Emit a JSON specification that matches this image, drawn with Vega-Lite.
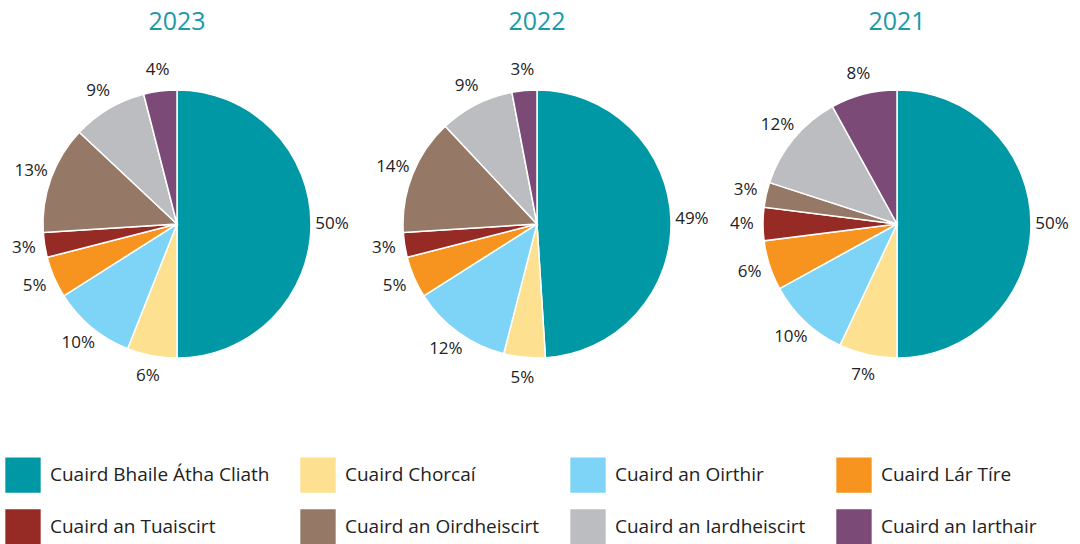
{
  "$schema": "https://vega.github.io/schema/vega-lite/v6.json",
  "background": "white",
  "padding": {"left": 5, "right": 5, "top": 10, "bottom": 0},
  "data": {"values": [
    {"year": "2023", "region": "Cuaird Bhaile Átha Cliath", "order": 1, "value": 50},
    {"year": "2023", "region": "Cuaird Chorcaí", "order": 2, "value": 6},
    {"year": "2023", "region": "Cuaird an Oirthir", "order": 3, "value": 10},
    {"year": "2023", "region": "Cuaird Lár Tíre", "order": 4, "value": 5},
    {"year": "2023", "region": "Cuaird an Tuaiscirt", "order": 5, "value": 3},
    {"year": "2023", "region": "Cuaird an Oirdheiscirt", "order": 6, "value": 13},
    {"year": "2023", "region": "Cuaird an Iardheiscirt", "order": 7, "value": 9},
    {"year": "2023", "region": "Cuaird an Iarthair", "order": 8, "value": 4},
    {"year": "2022", "region": "Cuaird Bhaile Átha Cliath", "order": 1, "value": 49},
    {"year": "2022", "region": "Cuaird Chorcaí", "order": 2, "value": 5},
    {"year": "2022", "region": "Cuaird an Oirthir", "order": 3, "value": 12},
    {"year": "2022", "region": "Cuaird Lár Tíre", "order": 4, "value": 5},
    {"year": "2022", "region": "Cuaird an Tuaiscirt", "order": 5, "value": 3},
    {"year": "2022", "region": "Cuaird an Oirdheiscirt", "order": 6, "value": 14},
    {"year": "2022", "region": "Cuaird an Iardheiscirt", "order": 7, "value": 9},
    {"year": "2022", "region": "Cuaird an Iarthair", "order": 8, "value": 3},
    {"year": "2021", "region": "Cuaird Bhaile Átha Cliath", "order": 1, "value": 50},
    {"year": "2021", "region": "Cuaird Chorcaí", "order": 2, "value": 7},
    {"year": "2021", "region": "Cuaird an Oirthir", "order": 3, "value": 10},
    {"year": "2021", "region": "Cuaird Lár Tíre", "order": 4, "value": 6},
    {"year": "2021", "region": "Cuaird an Tuaiscirt", "order": 5, "value": 4},
    {"year": "2021", "region": "Cuaird an Oirdheiscirt", "order": 6, "value": 3},
    {"year": "2021", "region": "Cuaird an Iardheiscirt", "order": 7, "value": 12},
    {"year": "2021", "region": "Cuaird an Iarthair", "order": 8, "value": 8}
  ]},
  "transform": [{"calculate": "datum.value + '%'", "as": "label"}],
  "facet": {
    "column": {
      "field": "year", "type": "nominal", "sort": "descending",
      "header": {"title": null, "labelFontSize": 25, "labelColor": "#1a9aa8", "labelFont": "Open Sans", "labelPadding": 0}
    }
  },
  "spacing": 16,
  "spec": {
    "width": 344,
    "height": 378,
    "encoding": {
      "theta": {"field": "value", "type": "quantitative", "stack": true},
      "order": {"field": "order", "type": "quantitative"}
    },
    "layer": [
      {
        "mark": {"type": "arc", "outerRadius": 134, "stroke": "white", "strokeWidth": 1.5},
        "encoding": {
          "color": {
            "field": "region", "type": "nominal",
            "sort": ["Cuaird Bhaile Átha Cliath", "Cuaird Chorcaí", "Cuaird an Oirthir", "Cuaird Lár Tíre", "Cuaird an Tuaiscirt", "Cuaird an Oirdheiscirt", "Cuaird an Iardheiscirt", "Cuaird an Iarthair"],
            "scale": {
              "domain": ["Cuaird Bhaile Átha Cliath", "Cuaird Chorcaí", "Cuaird an Oirthir", "Cuaird Lár Tíre", "Cuaird an Tuaiscirt", "Cuaird an Oirdheiscirt", "Cuaird an Iardheiscirt", "Cuaird an Iarthair"],
              "range": ["#0098a5", "#fde090", "#7dd4f6", "#f7941f", "#962a25", "#967866", "#bcbdc0", "#7b4a76"]
            },
            "legend": {
              "title": null, "orient": "bottom", "direction": "horizontal", "columns": 4,
              "symbolType": "square", "symbolSize": 1250, "symbolStrokeWidth": 0,
              "labelFontSize": 19, "labelFont": "Open Sans", "labelColor": "#222222", "labelLimit": 400,
              "labelOffset": 9, "columnPadding": 30, "rowPadding": 16, "offset": 44
            }
          }
        }
      },
      {
        "mark": {"type": "text", "radius": 155, "fontSize": 17, "font": "Open Sans", "color": "#222222"},
        "encoding": {
          "text": {"field": "label", "type": "nominal"},
          "detail": {"field": "region"}
        }
      }
    ]
  },
  "config": {"view": {"stroke": null}}
}
